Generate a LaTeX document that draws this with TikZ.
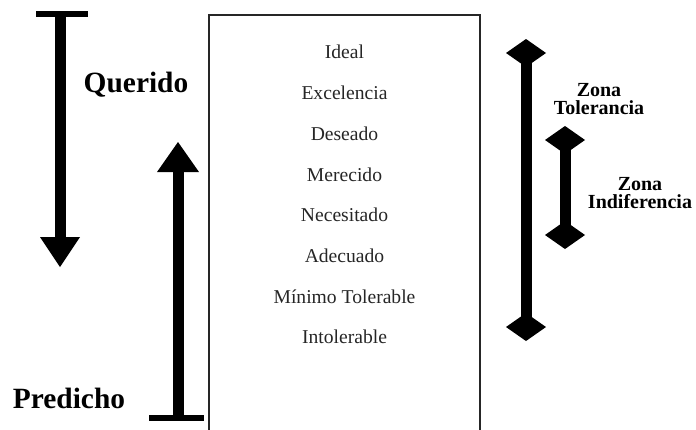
\documentclass[tikz,border=0pt]{standalone}
\usepackage{fontspec}
\setmainfont{Liberation Serif}
\begin{document}
\begin{tikzpicture}[x=0.5pt,y=-0.5pt,
  shaft/.style={line width=5.5pt, black},
  bar/.style={line width=3pt, black},
  head/.style={fill=black, draw=none},
  level/.style={font=\fontsize{9.8}{11}\selectfont, text=black!85},
  side/.style={font=\bfseries\fontsize{14.7}{17}\selectfont},
  zone/.style={font=\bfseries\fontsize{10}{9.3}\selectfont, align=center, inner sep=0pt}]
\useasboundingbox (0,0) rectangle (696,429);
% box
\draw[line width=1pt, black!85] (209,432) -- (209,15) -- (480,15) -- (480,432);
% levels
\foreach \t/\y/\n in {Ideal/52/l1, Excelencia/93/l2, Deseado/134/l3, Merecido/175/l4,
  Necesitado/215/l5, Adecuado/256/l6, Mínimo Tolerable/297/l7, Intolerable/337/l8}
  \node[level] (\n) at (344.5,\y) {\t};
% Querido arrow (down)
\coordinate (qtop) at (60,14);
\coordinate (qend) at (60,240);
\draw[bar] (36,14) -- (88,14);
\draw[shaft] (qtop) -- (qend);
\fill[head] (40,237) -- (80,237) -- (60,267) -- cycle;
\node[side] (querido) at (136,85) {Querido};
% Predicho arrow (up)
\coordinate (pbot) at (178,418);
\coordinate (pend) at (178,170);
\draw[bar] (149,418) -- (204,418);
\draw[shaft] (pbot) -- (pend);
\fill[head] (157,172) -- (199,172) -- (178,142) -- cycle;
\node[side] (predicho) at (69,398) {Predicho};
% Zona Tolerancia
\coordinate (tt) at (526,53);
\coordinate (tb) at (526,327);
\draw[shaft] (tt) -- (tb);
\fill[head] (506,53) -- (526,39) -- (546,53) -- (526,67) -- cycle;
\fill[head] (506,327) -- (526,313) -- (546,327) -- (526,341) -- cycle;
\node[zone] (ztol) at (599,99) {Zona\\Tolerancia};
% Zona Indiferencia
\coordinate (it) at (565,140);
\coordinate (ib) at (565,235);
\draw[shaft] (it) -- (ib);
\fill[head] (545,140) -- (565,126) -- (585,140) -- (565,154) -- cycle;
\fill[head] (545,235) -- (565,221) -- (585,235) -- (565,249) -- cycle;
\node[zone] (zind) at (640,193) {Zona\\Indiferencia};
\end{tikzpicture}
\end{document}
